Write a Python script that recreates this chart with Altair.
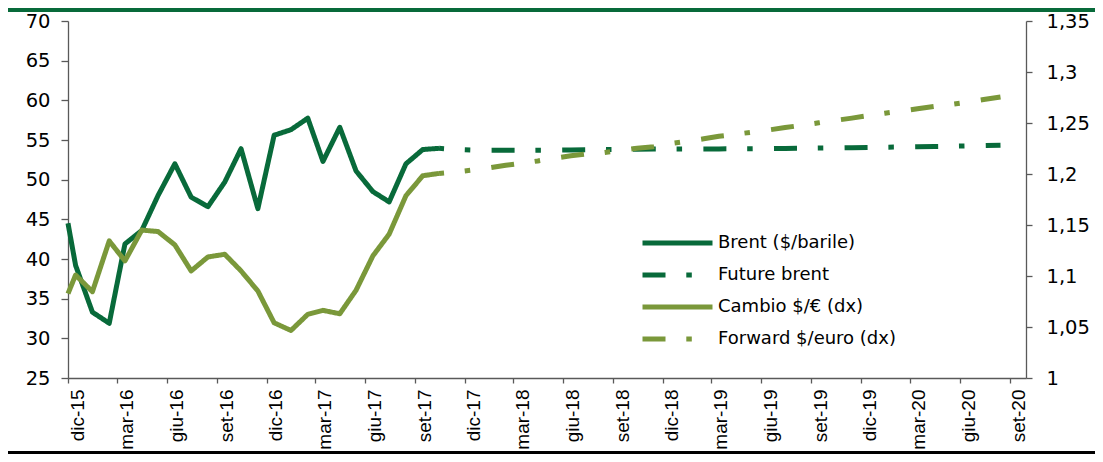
import json
import altair as alt
import pandas as pd

DARK = "#086a3a"
LIGHT = "#7a983a"
AXIS = "#595959"

S_BRENT = "Brent ($/barile)"
S_FUT = "Future brent"
S_CAMB = "Cambio $/€ (dx)"
S_FWD = "Forward $/euro (dx)"

# --- historical monthly data (dates = mid-month observations) ---
storico_date = [
    "2015-12-01", "2015-12-15", "2016-01-15", "2016-02-15", "2016-03-15", "2016-04-15",
    "2016-05-15", "2016-06-15", "2016-07-15", "2016-08-15", "2016-09-15", "2016-10-15",
    "2016-11-15", "2016-12-15", "2017-01-15", "2017-02-15", "2017-03-15", "2017-04-15",
    "2017-05-15", "2017-06-15", "2017-07-15", "2017-08-15", "2017-09-15", "2017-10-15",
]
brent = [
    44.5, 39.2, 33.3, 31.9, 41.9, 43.6,
    48.0, 52.0, 47.8, 46.6, 49.7, 53.9,
    46.35, 55.6, 56.3, 57.75, 52.3, 56.6,
    51.1, 48.5, 47.2, 52.0, 53.8, 53.95,
]
cambio = [
    1.0827, 1.101, 1.0846, 1.1344, 1.1148, 1.145,
    1.1436, 1.1305, 1.105, 1.1187, 1.1213, 1.105,
    1.0853, 1.0541, 1.0466, 1.0624, 1.0663, 1.063,
    1.086, 1.1197, 1.141, 1.1787, 1.1983, 1.2006,
]

# --- forward curves (Oct-17 .. Aug-20, mid-month) ---
future_date = [d.strftime("%Y-%m-%d") for d in pd.date_range("2017-10-01", periods=35, freq="MS") + pd.Timedelta(days=14)]
future_brent = [
    53.95, 53.8, 53.72, 53.7, 53.7, 53.7, 53.72, 53.73, 53.75, 53.78,
    53.8, 53.82, 53.84, 53.85, 53.86, 53.87, 53.88, 53.88, 53.89, 53.9,
    53.92, 53.94, 53.96, 53.98, 54.0, 54.03, 54.06, 54.09, 54.12, 54.15,
    54.18, 54.21, 54.25, 54.29, 54.33,
]
forward_cambio = [
    1.2006, 1.2020, 1.2038, 1.2060, 1.2085, 1.2105, 1.2128, 1.2155, 1.2178, 1.2198,
    1.2210, 1.2232, 1.2252, 1.2268, 1.2298, 1.2320, 1.2345, 1.2370, 1.2390, 1.2410,
    1.2432, 1.2455, 1.2478, 1.2502, 1.2525, 1.2548, 1.2572, 1.2596, 1.2618, 1.2640,
    1.2662, 1.2682, 1.2705, 1.2730, 1.2755,
]

mesi = ["gen", "feb", "mar", "apr", "mag", "giu", "lug", "ago", "set", "ott", "nov", "dic"]
tick_mesi = [(2015, 12)] + [(y, m) for y in range(2016, 2021) for m in (3, 6, 9, 12) if (y, m) <= (2020, 9)]
left_ticks = [25, 30, 35, 40, 45, 50, 55, 60, 65, 70]
right_ticks = [1, 1.05, 1.1, 1.15, 1.2, 1.25, 1.3, 1.35]

serie = [S_BRENT, S_FUT, S_CAMB, S_FWD]
colori = [DARK, DARK, LIGHT, LIGHT]
DASHDOT = [23, 20.8, 5.5, 21.3]
tratti = [[1, 0], DASHDOT, [1, 0], DASHDOT]

left_df = pd.concat([
    pd.DataFrame({"data": storico_date, "valore": brent, "serie": S_BRENT}),
    pd.DataFrame({"data": future_date, "valore": future_brent, "serie": S_FUT}),
])
right_df = pd.concat([
    pd.DataFrame({"data": storico_date, "valore": cambio, "serie": S_CAMB}),
    pd.DataFrame({"data": future_date, "valore": forward_cambio, "serie": S_FWD}),
])

label_expr = json.dumps(mesi) + "[utcmonth(datum.value)] + '-' + substring(toString(utcyear(datum.value)), 2)"

x_enc = alt.X(
    "data:T",
    scale=alt.Scale(type="utc", domain=[alt.DateTime(year=2015, month=12, date=1, utc=True),
                                        alt.DateTime(year=2020, month=10, date=1, utc=True)]),
    axis=alt.Axis(
        values=[alt.DateTime(year=y, month=m, date=1, utc=True) for (y, m) in tick_mesi],
        labelExpr=label_expr, labelAngle=270, labelAlign="right", labelBaseline="top",
        labelFont="Liberation Sans", labelFontSize=19, labelPadding=6, tickSize=5,
        title=None, grid=False,
    ),
)

legend_props = dict(
    orient="none", legendX=572, legendY=206, title=None, symbolType="stroke",
    symbolSize=4900, symbolStrokeWidth=5, clipHeight=32, rowPadding=0, padding=0,
    labelOffset=3, labelFont="DejaVu Sans", labelFontSize=18, labelColor="#000000", labelLimit=400,
)
color_enc = alt.Color("serie:N", scale=alt.Scale(domain=serie, range=colori), legend=alt.Legend(**legend_props))
dash_enc = alt.StrokeDash("serie:N", scale=alt.Scale(domain=serie, range=tratti), legend=alt.Legend(**legend_props))

line_kw = dict(strokeWidth=5, strokeJoin="round", strokeCap="butt", strokeDashOffset=18)

left = alt.Chart(left_df).mark_line(**line_kw).encode(
    x=x_enc,
    y=alt.Y("valore:Q", scale=alt.Scale(domain=[25, 70], nice=False, zero=False),
            axis=alt.Axis(values=left_ticks, orient="left", title=None, tickSize=7, labelPadding=11,
                          labelFont="DejaVu Sans", labelFontSize=19.5)),
    color=color_enc, strokeDash=dash_enc,
)
right = alt.Chart(right_df).mark_line(**line_kw).encode(
    x=x_enc,
    y=alt.Y("valore:Q", scale=alt.Scale(domain=[1, 1.35], nice=False, zero=False),
            axis=alt.Axis(values=right_ticks, orient="right", title=None, tickSize=6, labelPadding=14,
                          labelFont="DejaVu Sans", labelFontSize=19.5,
                          labelExpr="replace(toString(datum.value), '.', ',')")),
    color=color_enc, strokeDash=dash_enc,
)

dummy = pd.DataFrame({"k": [0]})
top_band = alt.Chart(dummy).mark_rule(color=DARK, strokeWidth=4).encode(
    x=alt.value(-60), x2=alt.value(1027), y=alt.value(-11))
bottom_line = alt.Chart(dummy).mark_rule(color="black", strokeWidth=3).encode(
    x=alt.value(-60), x2=alt.value(1027), y=alt.value(431.5))

chart = alt.layer(left, right, top_band, bottom_line).resolve_scale(y="independent").properties(
    width=958, height=357,
    autosize=alt.AutoSizeParams(type="none"),
    padding={"left": 60, "top": 13, "right": 69, "bottom": 76},
).configure_view(stroke=None).configure_axis(
    grid=False, domainColor=AXIS, tickColor=AXIS, labelColor="#000000", domainWidth=1.3, tickWidth=1.3,
)

chart.save("out.html", embed_options={"renderer": "svg", "actions": False})
